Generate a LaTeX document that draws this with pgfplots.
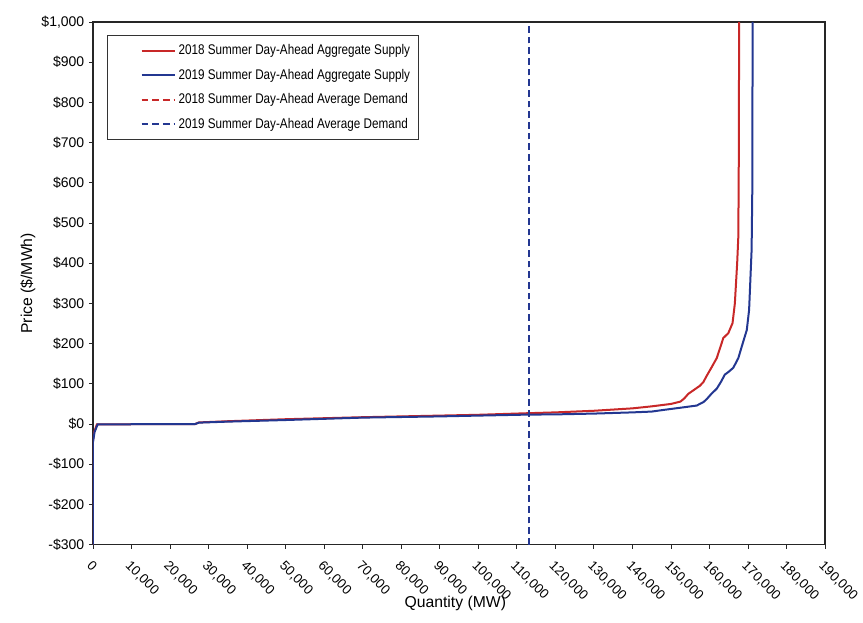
\documentclass[border=0pt]{standalone}
\usepackage{fontspec}
\setmainfont{Liberation Sans}
\newfontfamily\narrowfont[FakeStretch=0.835]{Liberation Sans}
\usepackage{pgfplots}
\pgfplotsset{compat=1.18}
\definecolor{sred}{RGB}{200,40,40}
\definecolor{sblue}{RGB}{35,55,145}
\begin{document}
\begin{tikzpicture}
\begin{axis}[
  scale only axis,
  width=549pt, height=392pt,
  xmin=0, xmax=190000, ymin=-300, ymax=1000,
  scaled x ticks=false,
  xtick={0,10000,...,190000},
  xticklabels={0,{10,000},{20,000},{30,000},{40,000},{50,000},{60,000},{70,000},{80,000},{90,000},{100,000},{110,000},{120,000},{130,000},{140,000},{150,000},{160,000},{170,000},{180,000},{190,000}},
  ytick={-300,-200,...,1000},
  yticklabels={-\$300,-\$200,-\$100,\$0,\$100,\$200,\$300,\$400,\$500,\$600,\$700,\$800,\$900,{\$1,000}},
  x tick label style={rotate=-45, anchor=north west, font=\fontsize{10}{12}\selectfont},
  xticklabel shift=3.5pt,
  y tick label style={font=\fontsize{10.5}{12}\selectfont},
  tick align=outside, xtick pos=bottom, ytick pos=left,
  major tick length=3pt,
  axis line style={line width=0.9pt, black!85},
  tick style={line width=0.6pt, black!85},
  xlabel={Quantity (MW)}, ylabel={Price (\$/MWh)},
  label style={font=\fontsize{11.8}{14}\selectfont},
  xlabel style={at={(axis description cs:0.495,-0.113)}, anchor=center},
  ylabel style={at={(axis description cs:-0.0888,0.5)}, anchor=center},
  legend cell align=left,
  legend style={at={(0.019,0.975)}, anchor=north west, font=\narrowfont\fontsize{10.5}{12}\selectfont,
    draw=black!80, line width=0.6pt, inner xsep=4pt, inner ysep=5pt, row sep=5.2pt,
    nodes={inner xsep=2pt}},
  legend image code/.code={\path (0pt,0pt); \draw[#1] (21pt,0pt) -- (46pt,0pt);},
]
\coordinate (sw) at (rel axis cs:0,0);
\coordinate (ne) at (rel axis cs:1,1);
\addplot[sred, line width=1.5pt] coordinates {
(0,-300) (0,-40) (300,-20) (1000,-1) (10000,-0.5) (26500,0) (27500,4) (35000,7)
(50000,12) (70000,17) (90000,21) (100000,23) (113000,27) (120000,29) (130000,33)
(140000,39) (145000,44) (150000,50) (152500,56) (153500,64) (154500,75) (156000,85)
(157500,95) (158400,104) (159300,120) (160500,140) (161900,164) (162800,190) (163600,214)
(164900,226) (166000,251) (166600,300)
(167200,400) (167500,466) (167650,700) (167700,1000)};
\addlegendentry{2018 Summer Day-Ahead Aggregate Supply}
\addplot[sblue, line width=1.5pt] coordinates {
(0,-300) (0,-45) (400,-20) (1200,-1) (10000,-0.5) (26500,0) (27500,3.5) (35000,6)
(50000,10) (70000,16) (90000,19) (100000,21) (113000,23.5) (120000,24) (130000,26)
(140000,29) (145000,31) (148000,35) (152000,40) (156700,46) (158500,55) (159300,62)
(160500,75) (161900,88) (163000,105) (164000,123) (165000,130) (166200,140) (167500,164) (168400,193) (169700,234)
(170300,284) (170950,433) (171150,600) (171200,1000)};
\addlegendentry{2019 Summer Day-Ahead Aggregate Supply}
\addplot[sred, line width=1.5pt, dash pattern=on 5pt off 3pt] coordinates {(113150,-300) (113150,1000)};
\addlegendentry{2018 Summer Day-Ahead Average Demand}
\addplot[sblue, line width=1.5pt, dash pattern=on 5pt off 3pt] coordinates {(113150,-300) (113150,1000)};
\addlegendentry{2019 Summer Day-Ahead Average Demand}
\end{axis}
\pgfresetboundingbox
\path ([shift={(-69.75pt,-58.5pt)}]sw) rectangle ([shift={(28.5pt,16.5pt)}]ne);
\end{tikzpicture}
\end{document}
